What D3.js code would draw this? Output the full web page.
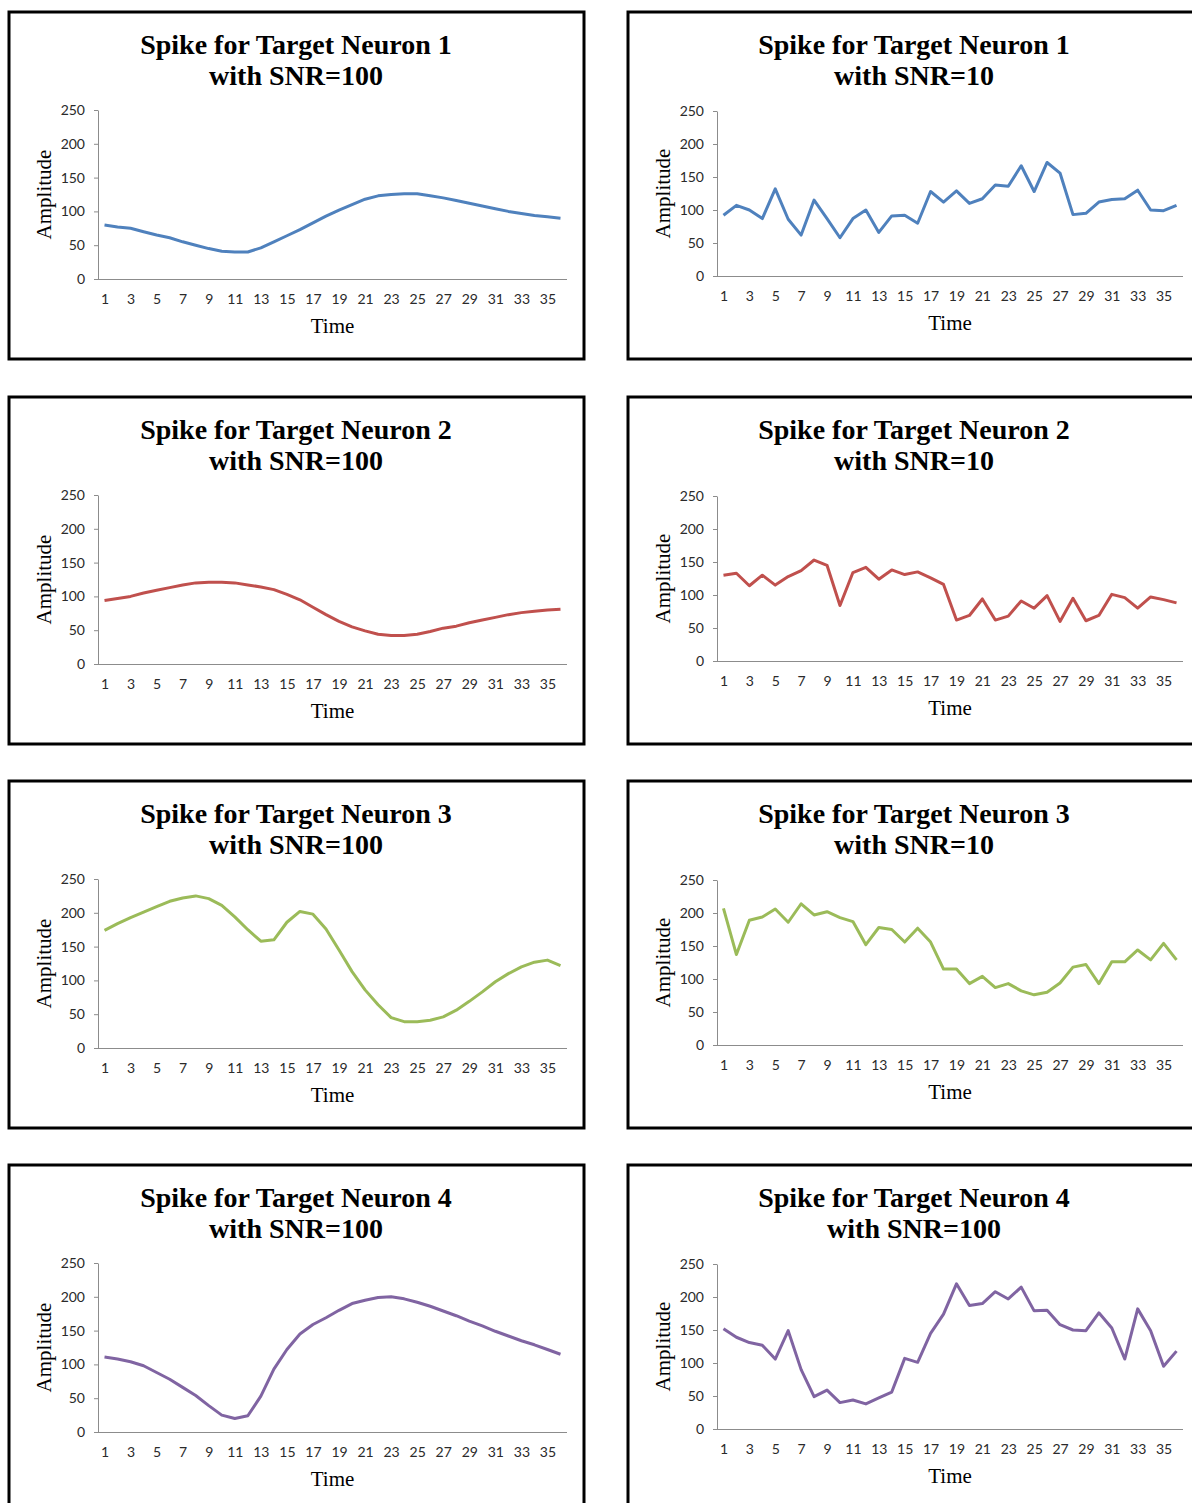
<!DOCTYPE html>
<html>
<head>
<meta charset="utf-8">
<script src="https://cdn.jsdelivr.net/npm/d3@7"></script>
<style>
  html, body { margin: 0; padding: 0; background: #fff; }
  svg { display: block; }
  .tick text { font-family: Lato, "Open Sans", sans-serif; font-size: 14px; fill: #2a2a2a; }
</style>
</head>
<body>
<svg id="chart" width="1192" height="1503"></svg>
<script>
// Time samples 1..36 and the odd ones printed on the axis
const timeSteps = d3.range(1, 37);
const timeTickLabels = [1, 3, 5, 7, 9, 11, 13, 15, 17, 19, 21, 23, 25, 27, 29, 31, 33, 35];
const amplitudeTicks = [0, 50, 100, 150, 200, 250];

// Spike amplitude traces, one value per time step
const neuron1Snr100 = [80, 77, 75, 70, 65, 61, 55, 50, 45, 41, 40, 40, 46, 55, 64, 73, 83, 93, 102, 110, 118, 123, 125, 126, 126, 123, 120, 116, 112, 108, 104, 100, 97, 94, 92, 90];
const neuron1Snr10 = [92, 107, 100, 87, 132, 86, 62, 115, 87, 58, 87, 100, 66, 91, 92, 80, 128, 112, 129, 110, 117, 138, 136, 167, 128, 172, 156, 93, 95, 112, 116, 117, 130, 100, 99, 107];
const neuron2Snr100 = [94, 97, 100, 105, 109, 113, 117, 120, 121, 121, 120, 117, 114, 110, 103, 95, 84, 73, 63, 55, 49, 44, 42, 42, 44, 48, 53, 56, 61, 65, 69, 73, 76, 78, 80, 81];
const neuron2Snr10 = [130, 133, 114, 130, 115, 128, 137, 153, 145, 84, 134, 142, 124, 138, 131, 135, 126, 116, 62, 69, 94, 62, 68, 91, 80, 99, 60, 95, 61, 69, 101, 96, 80, 97, 93, 88];
const neuron3Snr100 = [174, 184, 193, 201, 209, 217, 222, 225, 221, 211, 194, 175, 158, 160, 186, 202, 198, 176, 145, 113, 86, 64, 45, 39, 39, 41, 46, 56, 69, 83, 98, 110, 120, 127, 130, 122];
const neuron3Snr10 = [207, 137, 189, 194, 206, 186, 214, 197, 202, 193, 187, 152, 178, 175, 156, 177, 156, 115, 115, 93, 104, 87, 93, 82, 76, 80, 94, 118, 122, 93, 126, 126, 144, 129, 154, 129];
const neuron4Snr100 = [111, 108, 104, 98, 88, 78, 66, 54, 39, 25, 20, 24, 53, 93, 122, 145, 159, 169, 180, 190, 195, 199, 200, 197, 192, 186, 179, 172, 164, 157, 149, 142, 135, 129, 122, 115];
const neuron4Snr100b = [152, 139, 131, 127, 106, 149, 90, 49, 59, 40, 44, 38, 47, 56, 107, 101, 145, 174, 220, 187, 190, 208, 197, 215, 179, 180, 158, 150, 149, 176, 153, 106, 182, 149, 95, 118];

const seriesColors = { blue: "#4f81bd", red: "#c0504d", green: "#9bbb59", purple: "#8064a2" };

const panels = [
  { title: ["Spike for Target Neuron 1", "with SNR=100"], values: neuron1Snr100, color: seriesColors.blue, col: 0, row: 0 },
  { title: ["Spike for Target Neuron 1", "with SNR=10"], values: neuron1Snr10, color: seriesColors.blue, col: 1, row: 0 },
  { title: ["Spike for Target Neuron 2", "with SNR=100"], values: neuron2Snr100, color: seriesColors.red, col: 0, row: 1 },
  { title: ["Spike for Target Neuron 2", "with SNR=10"], values: neuron2Snr10, color: seriesColors.red, col: 1, row: 1 },
  { title: ["Spike for Target Neuron 3", "with SNR=100"], values: neuron3Snr100, color: seriesColors.green, col: 0, row: 2 },
  { title: ["Spike for Target Neuron 3", "with SNR=10"], values: neuron3Snr10, color: seriesColors.green, col: 1, row: 2 },
  { title: ["Spike for Target Neuron 4", "with SNR=100"], values: neuron4Snr100, color: seriesColors.purple, col: 0, row: 3 },
  { title: ["Spike for Target Neuron 4", "with SNR=100"], values: neuron4Snr100b, color: seriesColors.purple, col: 1, row: 3 }
];

const svg = d3.select("#chart");
const colX = [9, 628];
const rowY = [12, 397, 781, 1165];
const frameW = 575, frameH = 347;
const serif = "'Liberation Serif', 'Times New Roman', serif";

// per-column plot geometry, relative to the frame corner
const geom = [
  { axisL: 89, axisR: 558, top: 98, bottom: 267, titleX: 287 },
  { axisL: 89, axisR: 555, top: 99, bottom: 264, titleX: 286 }
];

panels.forEach(p => {
  const x0 = colX[p.col], y0 = rowY[p.row];
  const g = geom[p.col];
  const panel = svg.append("g").attr("transform", `translate(${x0},${y0})`);

  panel.append("rect")
    .attr("x", 0).attr("y", 0).attr("width", frameW).attr("height", frameH)
    .attr("fill", "#fff").attr("stroke", "#000").attr("stroke-width", 3);

  const title = panel.append("text")
    .attr("text-anchor", "middle")
    .attr("font-family", serif)
    .attr("font-weight", "bold").attr("font-size", 28).attr("fill", "#000");
  p.title.forEach((line, i) => {
    title.append("tspan").attr("x", g.titleX).attr("y", 42 + i * 31).text(line);
  });

  const x = d3.scalePoint().domain(timeSteps).range([g.axisL, g.axisR]).padding(0.5);
  const y = d3.scaleLinear().domain([0, 250]).range([g.bottom, g.top]);

  const yAxis = panel.append("g").attr("transform", `translate(${g.axisL},0)`)
    .call(d3.axisLeft(y).tickValues(amplitudeTicks).tickSize(4).tickSizeOuter(0).tickPadding(9));
  yAxis.select(".domain").attr("stroke", "#8c8c8c");
  yAxis.selectAll(".tick line").attr("stroke", "#8c8c8c");

  const xAxis = panel.append("g").attr("transform", `translate(0,${g.bottom})`)
    .call(d3.axisBottom(x).tickValues(timeTickLabels).tickSize(0).tickPadding(15));
  xAxis.select(".domain").attr("stroke", "#8c8c8c").attr("d", `M${g.axisL},0.5H${g.axisR}`);

  panel.append("path")
    .datum(p.values)
    .attr("fill", "none")
    .attr("stroke", p.color)
    .attr("stroke-width", 3)
    .attr("stroke-linejoin", "round")
    .attr("d", d3.line().x((d, i) => x(timeSteps[i])).y(d => y(d)));

  panel.append("text")
    .attr("x", (g.axisL + g.axisR) / 2).attr("y", g.bottom + 54)
    .attr("text-anchor", "middle")
    .attr("font-family", serif)
    .attr("font-size", 21).attr("fill", "#000")
    .text("Time");

  panel.append("text")
    .attr("transform", `translate(42,${(g.top + g.bottom) / 2}) rotate(-90)`)
    .attr("text-anchor", "middle")
    .attr("font-family", serif)
    .attr("font-size", 21).attr("fill", "#000")
    .text("Amplitude");
});
</script>
</body>
</html>
